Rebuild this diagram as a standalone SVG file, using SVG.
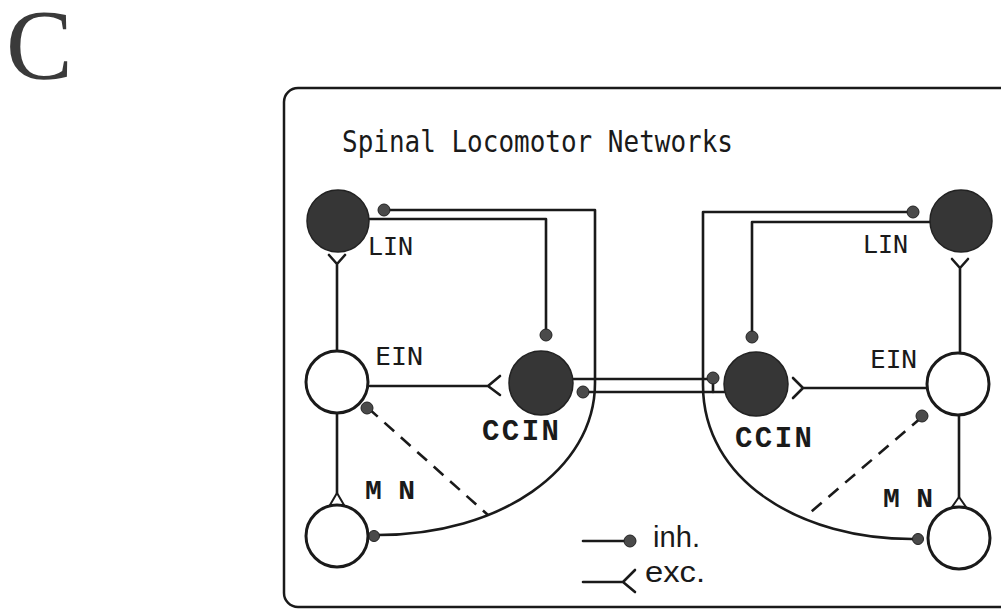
<svg xmlns="http://www.w3.org/2000/svg" width="1001" height="609" viewBox="0 0 1001 609">
<defs>
<style>
.ln{fill:none;stroke:#1a1a1a;stroke-width:2.6;stroke-linecap:round;stroke-linejoin:round}
.dash{fill:none;stroke:#1a1a1a;stroke-width:2.6;stroke-dasharray:13 9}
.open{fill:#fff;stroke:#1a1a1a;stroke-width:3}
.dark{fill:#363636;stroke:#222;stroke-width:1.5}
.dot{fill:#4a4a4a;stroke:#222;stroke-width:1}
.lbl{font-family:"DejaVu Sans Mono","Liberation Mono",monospace;fill:#1a1a1a}
.bl{font-family:"Liberation Mono","DejaVu Sans Mono",monospace;font-weight:bold;fill:#1a1a1a}
.leg{font-family:"Liberation Sans",Arial,sans-serif;fill:#1a1a1a}
</style>
</defs>
<rect width="1001" height="609" fill="#fff"/>
<text x="6" y="78" font-family="Liberation Serif,serif" font-size="100" fill="#3a3a3a">C</text>
<rect x="284" y="88" width="740" height="519" rx="14" ry="14" fill="none" stroke="#1a1a1a" stroke-width="2.5"/>
<text class="lbl" x="342" y="152" font-size="30" textLength="391" lengthAdjust="spacingAndGlyphs">Spinal Locomotor Networks</text>

<g id="connectors">
<path class="ln" d="M384,210 H595 V383 C595,470 500,535 378,535"/>
<path class="ln" d="M368,219 H546 V333"/>
<path class="ln" d="M337,264 V352 M329,255 L337,264 L345,255"/>
<path class="ln" d="M370,386 H488 M500,376 L488,386 L500,395"/>
<path class="ln" d="M337,413 V493"/>
<path d="M337,493 L330,505 L344,505 Z" fill="#fff" stroke="#1a1a1a" stroke-width="2"/>
<path class="dash" d="M368,408 L488,515"/>
<path class="ln" d="M573,379 H713"/>
<path class="ln" d="M582,392 H724"/>
<path class="ln" d="M713,379 V392"/>
<path class="ln" d="M913,212 H703 V385 C703,480 800,540 915,539"/>
<path class="ln" d="M930,222 H752 V335"/>
<path class="ln" d="M960,268 V353 M952,259 L960,268 L968,259"/>
<path class="ln" d="M927,388 H803 M793,378 L803,388 L793,398"/>
<path class="ln" d="M959,415 V497"/>
<path d="M959,497 L952,507 L966,507 Z" fill="#fff" stroke="#1a1a1a" stroke-width="2"/>
<path class="dash" d="M922,417 L805,517"/>
<circle class="dot" cx="384" cy="210" r="6"/>
<circle class="dot" cx="546" cy="335" r="6"/>
<circle class="dot" cx="367" cy="408" r="6"/>
<circle class="dot" cx="374" cy="536" r="5.5"/>
<circle class="dot" cx="583" cy="392" r="6"/>
<circle class="dot" cx="713" cy="378" r="6"/>
<circle class="dot" cx="913" cy="212" r="6"/>
<circle class="dot" cx="752" cy="337" r="6"/>
<circle class="dot" cx="922" cy="416" r="6"/>
<circle class="dot" cx="918" cy="539" r="5.5"/>
</g>

<g id="lin-left">
<circle class="dark" cx="338" cy="221" r="31"/>
<text class="lbl" x="368" y="255" font-size="25" textLength="45" lengthAdjust="spacingAndGlyphs">LIN</text>
</g>
<g id="ein-left">
<circle class="open" cx="337" cy="382" r="31"/>
<text class="lbl" x="375" y="365" font-size="25" textLength="48" lengthAdjust="spacingAndGlyphs">EIN</text>
</g>
<g id="ccin-left">
<circle class="dark" cx="541" cy="383" r="32"/>
<text class="bl" x="482" y="440" font-size="29" textLength="77" lengthAdjust="spacing">CCIN</text>
</g>
<g id="mn-left">
<circle class="open" cx="337" cy="536" r="31"/>
<text class="bl" x="365" y="499" font-size="28" textLength="50" lengthAdjust="spacing">M N</text>
</g>

<g id="lin-right">
<circle class="dark" cx="961" cy="221" r="31"/>
<text class="lbl" x="863" y="253" font-size="25" textLength="45" lengthAdjust="spacingAndGlyphs">LIN</text>
</g>
<g id="ein-right">
<circle class="open" cx="958" cy="384" r="31"/>
<text class="lbl" x="870" y="368" font-size="25" textLength="47" lengthAdjust="spacingAndGlyphs">EIN</text>
</g>
<g id="ccin-right">
<circle class="dark" cx="756" cy="384" r="32"/>
<text class="bl" x="735" y="447" font-size="29" textLength="77" lengthAdjust="spacing">CCIN</text>
</g>
<g id="mn-right">
<circle class="open" cx="959" cy="538" r="31"/>
<text class="bl" x="883" y="507" font-size="28" textLength="50" lengthAdjust="spacing">M N</text>
</g>

<g id="legend">
<path class="ln" d="M583,541 H628"/>
<circle class="dot" cx="630" cy="541" r="6"/>
<text class="leg" x="653" y="547" font-size="30" textLength="47" lengthAdjust="spacingAndGlyphs">inh.</text>
<path class="ln" d="M583,582 H623 M635,570 L623,582 L635,592"/>
<text class="leg" x="645" y="582" font-size="29" textLength="60" lengthAdjust="spacingAndGlyphs">exc.</text>
</g>
</svg>
